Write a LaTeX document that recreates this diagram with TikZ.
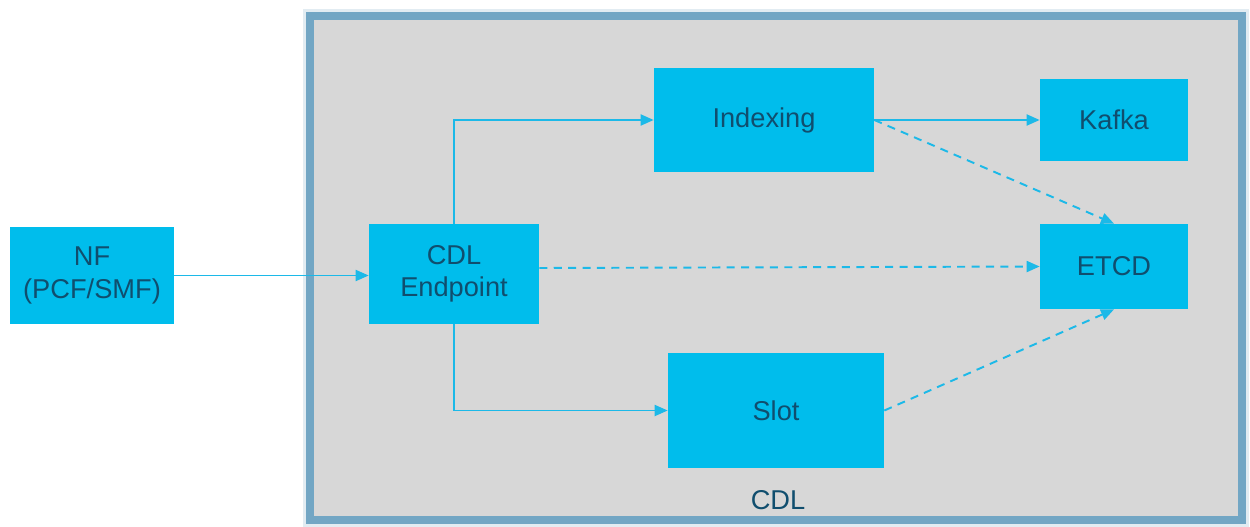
\documentclass[tikz,border=0pt]{standalone}
\usepackage{fontspec}
\setmainfont{Liberation Sans}
\usetikzlibrary{arrows.meta}
\definecolor{boxcyan}{HTML}{00BDEC}
\definecolor{txt}{HTML}{104E6E}
\definecolor{arr}{HTML}{1CB9E8}
\definecolor{panel}{HTML}{D7D7D7}
\definecolor{frame}{HTML}{72A6C4}
\definecolor{frameglow}{HTML}{E2ECF2}
\tikzset{
  box/.style={fill=boxcyan, draw=none, text=txt, font=\fontsize{15.5}{18.5}\selectfont, align=center, inner sep=0pt},
  conn/.style={draw=arr, line width=1.1pt, -{Triangle[length=0.26cm,width=0.22cm]}},
  dconn/.style={conn, dash pattern=on 4.6pt off 3.6pt},
}
\begin{document}
\begin{tikzpicture}[x=0.02cm,y=-0.02cm]
\useasboundingbox (0,0) rectangle (1250,527);
\fill[white] (0,0) rectangle (1250,527);
% CDL panel
\draw[frameglow, line width=8pt] (310,16) rectangle (1242,520);
\draw[frame, fill=panel, line width=4.5pt] (310,16) rectangle (1242,520);
\node[text=txt, font=\fontsize{15.5}{18.5}\selectfont] (cdl) at (778,500) {CDL};
% boxes
\node[box, minimum width=3.28cm, minimum height=1.94cm] (nf) at (92,275.5) {NF\\(PCF/SMF)};
\node[box, minimum width=3.4cm, minimum height=2.0cm] (ep) at (454,274) {CDL\\Endpoint};
\node[box, minimum width=4.4cm, minimum height=2.08cm] (idx) at (764,120) {Indexing};
\node[box, minimum width=2.96cm, minimum height=1.66cm] (kafka) at (1114,120) {Kafka};
\node[box, minimum width=2.96cm, minimum height=1.7cm] (etcd) at (1114,266.5) {ETCD};
\node[box, minimum width=4.32cm, minimum height=2.3cm] (slot) at (776,410.5) {Slot};
% connectors
\draw[conn] (nf.east) -- (nf.east -| ep.west);
\draw[conn] (ep.north) |- (idx.west);
\draw[conn] (ep.south) |- (slot.west);
\draw[conn] (idx.east) -- (kafka.west);
\draw[dconn] (idx.east) -- (etcd.north);
\draw[dconn] ([yshift=0.12cm]ep.east) -- (etcd.west);
\draw[dconn] (slot.east) -- (etcd.south);
\end{tikzpicture}
\end{document}
